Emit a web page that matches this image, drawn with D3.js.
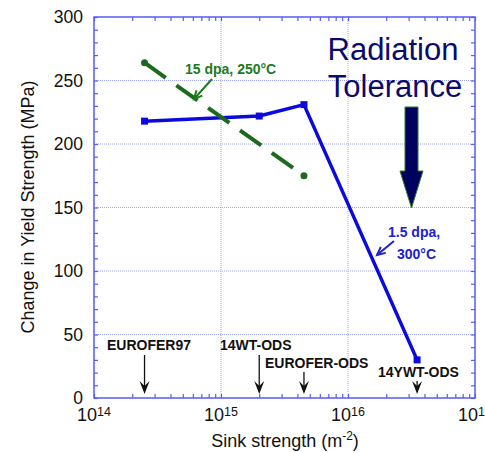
<!DOCTYPE html>
<html>
<head>
<meta charset="utf-8">
<script src="https://cdn.jsdelivr.net/npm/d3@7"></script>
<style>
  body { margin: 0; background: #fff; }
  text { font-family: "Liberation Sans", Arial, sans-serif; }
</style>
</head>
<body>
<div id="chart"></div>
<script>
// data
const sinkODS = [2.5e14, 2.0e15, 4.5e15, 3.5e16];      // 1.5 dpa, 300C series
const dysODS  = [218, 222, 231, 30];
const sinkLow = [2.5e14, 4.5e15];                      // 15 dpa, 250C series
const dysLow  = [264, 175];
const materials = ["EUROFER97", "14WT-ODS", "EUROFER-ODS", "14YWT-ODS"];
const materialSink = [2.5e14, 2.0e15, 4.5e15, 3.5e16];
const yTicks = [0, 50, 100, 150, 200, 250, 300];
const xTicks = [1e14, 1e15, 1e16, 1e17];

let width = 485, height = 453;
let plotLeft = 94, plotRight = 475, plotTop = 17, plotBottom = 398;
let frameColor = "#5a5af5";
let blue = "#0a0ae0";
let green = "#1c6b1c";

var svg = d3.select("#chart").append("svg")
  .attr("width", width)
  .attr("height", height);

let xScale = d3.scaleLog().domain([1e14, 1e17]).range([plotLeft, plotRight]);
let yScale = d3.scaleLinear().domain([0, 300]).range([plotBottom, plotTop]);

// grid
let grid = svg.append("g")
  .attr("stroke", "#9ea6f2")
  .attr("stroke-width", 1)
  .attr("stroke-dasharray", "1,1");
grid.selectAll(".gy").data(yTicks.slice(1, -1)).enter().append("line")
  .attr("x1", plotLeft).attr("x2", plotRight)
  .attr("y1", d => yScale(d)).attr("y2", d => yScale(d));
grid.selectAll(".gx").data(xTicks.slice(1, -1)).enter().append("line")
  .attr("y1", plotTop).attr("y2", plotBottom)
  .attr("x1", d => xScale(d)).attr("x2", d => xScale(d));

// axes, ticks pointing inward on all four sides
let minorY = d3.range(0, 301, 10);
let minorX = [];
[1e14, 1e15, 1e16].forEach(function (dec) {
  for (let k = 2; k <= 9; k++) minorX.push(dec * k);
});

let axisL = svg.append("g").attr("transform", `translate(${plotLeft},0)`)
  .call(d3.axisLeft(yScale).tickValues(minorY).tickSize(-4).tickFormat(""));
let axisR = svg.append("g").attr("transform", `translate(${plotRight},0)`)
  .call(d3.axisRight(yScale).tickValues(minorY).tickSize(-4).tickFormat(""));
let axisB = svg.append("g").attr("transform", `translate(0,${plotBottom})`)
  .call(d3.axisBottom(xScale).tickValues(minorX.concat(xTicks)).tickSize(-4).tickFormat(""));
let axisT = svg.append("g").attr("transform", `translate(0,${plotTop})`)
  .call(d3.axisTop(xScale).tickValues(minorX.concat(xTicks)).tickSize(-4).tickFormat(""));

[axisL, axisR, axisB, axisT].forEach(function (a) {
  a.select(".domain").remove();
  a.selectAll("line").attr("stroke", frameColor).attr("stroke-width", 1.2);
});

svg.append("rect")
  .attr("x", plotLeft).attr("y", plotTop)
  .attr("width", plotRight - plotLeft).attr("height", plotBottom - plotTop)
  .attr("fill", "none")
  .attr("stroke", frameColor)
  .attr("stroke-width", 1.5);

// tick labels
svg.selectAll(".ylab").data(yTicks).enter().append("text")
  .attr("x", 83)
  .attr("y", d => yScale(d) + 6)
  .attr("text-anchor", "end")
  .attr("font-size", "17.5px")
  .attr("fill", "#111")
  .text(d => d);

let xl = svg.selectAll(".xlab").data(xTicks).enter().append("text")
  .attr("x", d => xScale(d))
  .attr("y", 421)
  .attr("text-anchor", "middle")
  .attr("font-size", "18px")
  .attr("fill", "#111");
xl.append("tspan").text("10");
xl.append("tspan").attr("font-size", "12.5px").attr("dy", -5)
  .text(d => Math.round(Math.log10(d)));

// axis titles
svg.append("text")
  .attr("transform", "rotate(-90)")
  .attr("x", -207)
  .attr("y", 34)
  .attr("text-anchor", "middle")
  .attr("font-size", "18px")
  .attr("fill", "#111")
  .text("Change in Yield Strength (MPa)");

let xt = svg.append("text")
  .attr("x", 285)
  .attr("y", 447)
  .attr("text-anchor", "middle")
  .attr("font-size", "18px")
  .attr("fill", "#111");
xt.append("tspan").text("Sink strength (m");
xt.append("tspan").attr("font-size", "12px").attr("dy", -7).text("-2");
xt.append("tspan").attr("dy", 7).text(")");

// series
let line = d3.line().x(d => xScale(d[0])).y(d => yScale(d[1]));

let odsPts = sinkODS.map((s, i) => [s, dysODS[i]]);
svg.append("path")
  .attr("d", line(odsPts))
  .attr("fill", "none")
  .attr("stroke", blue)
  .attr("stroke-width", 3.5)
  .attr("stroke-linejoin", "round");
svg.selectAll(".bsq").data(odsPts).enter().append("rect")
  .attr("x", d => xScale(d[0]) - 3.5)
  .attr("y", d => yScale(d[1]) - 3.5)
  .attr("width", 7).attr("height", 7)
  .attr("fill", blue);

let lowPts = sinkLow.map((s, i) => [s, dysLow[i]]);
svg.append("path")
  .attr("d", line(lowPts))
  .attr("fill", "none")
  .attr("stroke", green)
  .attr("stroke-width", 4)
  .attr("stroke-dasharray", "26,13");
svg.selectAll(".gdot").data(lowPts).enter().append("circle")
  .attr("cx", d => xScale(d[0]))
  .attr("cy", d => yScale(d[1]))
  .attr("r", 3.5)
  .attr("fill", green);

// small pointer arrows for the series notes
function pointer(x1, y1, x2, y2, color) {
  let ang = Math.atan2(y2 - y1, x2 - x1);
  let len = 9, spread = 0.45;
  let g = svg.append("g").attr("stroke", color).attr("stroke-width", 2).attr("fill", "none");
  g.append("line").attr("x1", x1).attr("y1", y1).attr("x2", x2).attr("y2", y2);
  g.append("path").attr("d",
    `M${x2 - len * Math.cos(ang - spread)},${y2 - len * Math.sin(ang - spread)}` +
    `L${x2},${y2}` +
    `L${x2 - len * Math.cos(ang + spread)},${y2 - len * Math.sin(ang + spread)}`);
}

svg.append("text")
  .attr("x", 185).attr("y", 74)
  .attr("font-size", "14px").attr("font-weight", "bold")
  .attr("fill", "#1e7a1e")
  .text("15 dpa, 250°C");
pointer(212, 79, 194, 99, "#1e7a1e");

svg.append("text")
  .attr("x", 388).attr("y", 237)
  .attr("font-size", "14px").attr("font-weight", "bold")
  .attr("fill", "#2020d0")
  .text("1.5 dpa,");
svg.append("text")
  .attr("x", 397).attr("y", 259)
  .attr("font-size", "14px").attr("font-weight", "bold")
  .attr("fill", "#2020d0")
  .text("300°C");
pointer(394, 241, 377, 255, "#2020d0");

// material markers
let labelX = [107, 220, 265, 378];
let labelY = [350, 350, 368, 377];
let arrowTop = [355, 355, 372, 381];
materials.forEach(function (name, i) {
  let ax = xScale(materialSink[i]);
  svg.append("text")
    .attr("x", labelX[i]).attr("y", labelY[i])
    .attr("font-size", "14px").attr("font-weight", "bold")
    .attr("fill", "#111")
    .text(name);
  svg.append("line")
    .attr("x1", ax).attr("x2", ax)
    .attr("y1", arrowTop[i]).attr("y2", 388)
    .attr("stroke", "#111").attr("stroke-width", 1.3);
  svg.append("path")
    .attr("d", `M${ax},394 L${ax - 5},381 L${ax},386 L${ax + 5},381 Z`)
    .attr("fill", "#111");
});

// Radiation tolerance callout
svg.append("text")
  .attr("x", 393).attr("y", 60)
  .attr("text-anchor", "middle")
  .attr("font-size", "31px")
  .attr("fill", "#0a0a6e")
  .text("Radiation");
svg.append("text")
  .attr("x", 395).attr("y", 97)
  .attr("text-anchor", "middle")
  .attr("font-size", "31px")
  .attr("fill", "#0a0a6e")
  .text("Tolerance");
svg.append("path")
  .attr("d", "M405,107 L418,107 L418,171 L423,171 L411.5,208 L400,171 L405,171 Z")
  .attr("fill", "#00005e")
  .attr("stroke", "#2a7a2a")
  .attr("stroke-width", 1);
</script>
</body>
</html>
